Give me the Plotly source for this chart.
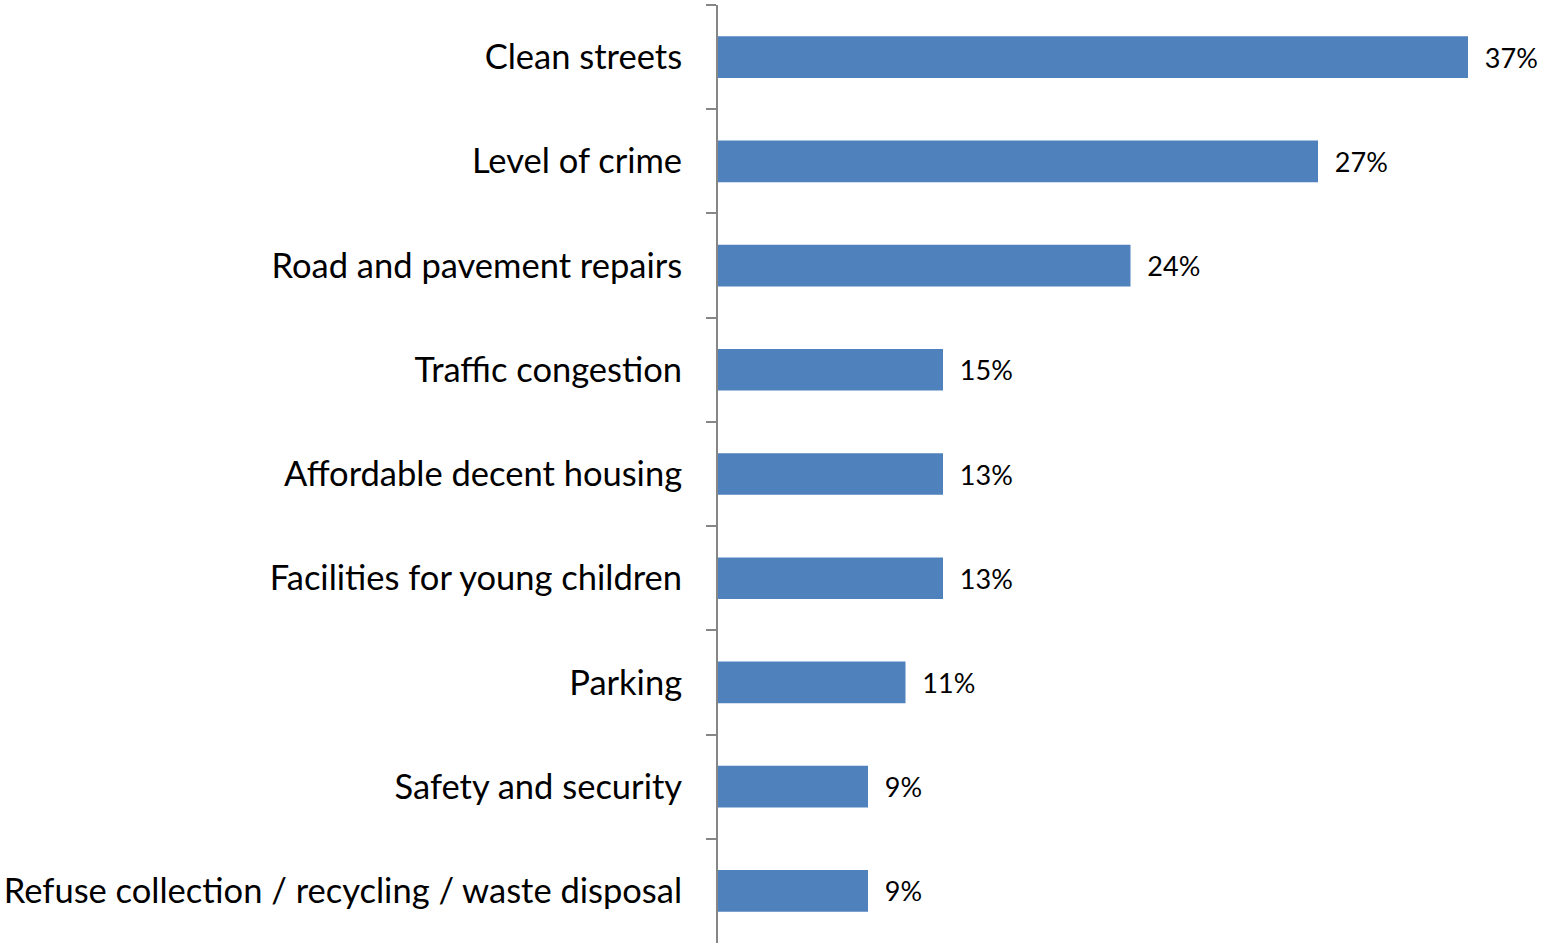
import plotly.graph_objects as go

categories = [
    "Clean streets",
    "Level of crime",
    "Road and pavement repairs",
    "Traffic congestion",
    "Affordable decent housing",
    "Facilities for young children",
    "Parking",
    "Safety and security",
    "Refuse collection / recycling / waste disposal",
]
bar_values = [20, 16, 11, 6, 6, 6, 5, 4, 4]
value_labels = ["37%", "27%", "24%", "15%", "13%", "13%", "11%", "9%", "9%"]

fig = go.Figure(
    go.Bar(
        x=bar_values,
        y=categories,
        orientation="h",
        marker=dict(color="#4F81BD", line=dict(width=0)),
        text=["  " + t for t in value_labels],
        textposition="outside",
        constraintext="none",
        cliponaxis=False,
        textfont=dict(family="Lato", size=27, color="#000000"),
        hoverinfo="skip",
    )
)

fig.update_layout(
    width=1543,
    height=947,
    margin=dict(l=718, r=75, t=5, b=4, autoexpand=False),
    paper_bgcolor="white",
    plot_bgcolor="white",
    bargap=0.6,
    showlegend=False,
    font=dict(family="Lato", color="#000000"),
)
fig.update_xaxes(visible=False, range=[0, 20], fixedrange=True)
fig.update_yaxes(
    autorange="reversed",
    type="category",
    showline=True,
    linecolor="#868686",
    linewidth=2,
    ticks="outside",
    ticklen=10,
    tickwidth=2,
    tickcolor="#868686",
    tickson="boundaries",
    showgrid=False,
    ticklabelstandoff=27,
    tickfont=dict(family="Lato", size=34.5, color="#000000"),
    automargin=False,
    fixedrange=True,
)

fig.write_html(
    "out.html",
    config={"displayModeBar": False},
    post_script="document.body.style.margin='0';document.body.style.overflow='hidden';",
)
